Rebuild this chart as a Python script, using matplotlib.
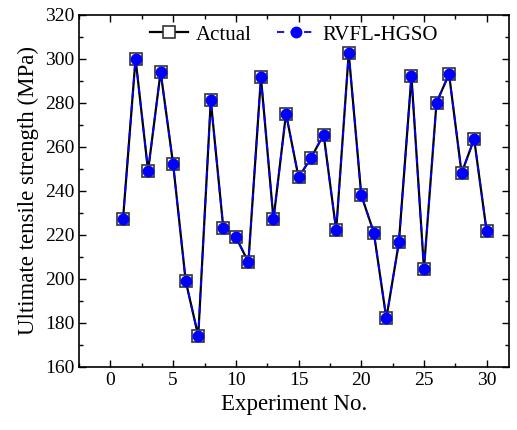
import numpy as np
import matplotlib.pyplot as plt

plt.rcParams['font.family'] = ['Liberation Serif', 'DejaVu Serif']
plt.rcParams['mathtext.fontset'] = 'stix'

# Data
experiment = np.arange(1, 31)
actual = [227, 300, 249, 294, 252, 199, 174, 281, 223, 219,
          207.5, 291.5, 227, 275, 246, 255, 265.5, 222, 302.5, 238,
          221, 182, 216.5, 292, 204.5, 280, 293, 248, 263.5, 221.5]
predicted = [227, 300, 249, 294, 252, 199, 174, 281, 223, 219,
             207.5, 291.5, 227, 275, 246, 255, 265.5, 222, 302.5, 238,
             221, 182, 216.5, 292, 204.5, 280, 293, 248, 263.5, 221.5]
x_ticks = [0, 5, 10, 15, 20, 25, 30]
y_ticks = [160, 180, 200, 220, 240, 260, 280, 300, 320]

fig = plt.figure(figsize=(5.17, 4.3), dpi=100)
ax = fig.add_axes([0.153, 0.147, 0.832, 0.819])

ax.plot(experiment, actual, '-', color='black', lw=1.6, marker='s', markersize=8,
        markerfacecolor='white', markeredgecolor='#333333', markeredgewidth=1.2, label='Actual')
ax.plot(experiment, predicted, '--', color='blue', lw=1.3, dashes=(4, 3.5), marker='o', markersize=7.5,
        markerfacecolor='blue', markeredgecolor='blue', label='RVFL-HGSO')

ax.set_xlim(-2.45, 31.8)
ax.set_ylim(160, 320)
ax.set_xticks(x_ticks)
ax.set_yticks(y_ticks)
ax.set_xticks(np.arange(-2.5, 32, 2.5), minor=True)
ax.set_yticks(np.arange(160, 321, 10), minor=True)
ax.tick_params(which='both', direction='in', top=True, right=True, labelsize=14)
ax.tick_params(which='major', length=5, width=1)
ax.tick_params(which='minor', length=3, width=1)
for s in ax.spines.values():
    s.set_linewidth(1.2)

ax.set_xlabel('Experiment No.', fontsize=16.5)
ax.set_ylabel('Ultimate tensile strength (MPa)', fontsize=16.5)

ax.legend(loc='upper center', ncol=2, frameon=False, fontsize=15,
          handlelength=1.8, columnspacing=1.2, borderaxespad=0.1, handletextpad=0.4)

plt.savefig('out.png', dpi=100)
